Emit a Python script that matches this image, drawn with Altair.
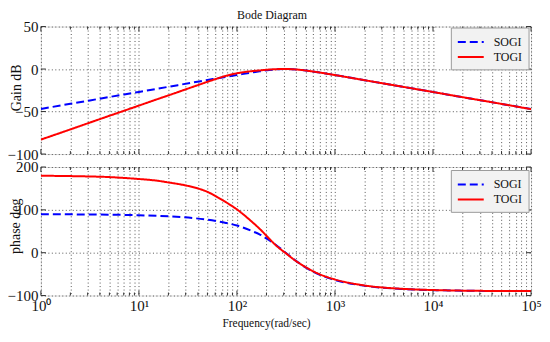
import altair as alt
import pandas as pd

# ---- data ----
freq_sogi = [1, 2, 5, 10, 20, 35, 50, 66, 77, 100, 144, 170, 213, 250, 314, 400, 464, 500,
             700, 1000, 2000, 5000, 10000, 20000, 50000, 100000]
sogi_gain = [-46.9, -40.9, -32.9, -26.9, -20.9, -16.0, -12.95, -10.5, -9.2, -7.0, -3.95, -2.7,
             -1.2, -0.44, 0.0, -0.49, -1.2, -1.66, -4.1, -7.1, -13.1, -21.0, -27.0, -33.1, -41.0, -47.0]
sogi_phase = [89.7, 89.5, 88.7, 87.4, 84.8, 81.0, 77.0, 72.5, 69.5, 63.4, 50.0, 43.0, 29.0, 18.0,
              0.0, -19.0, -29.5, -34.3, -51.5, -63.8, -77.2, -84.9, -87.4, -88.7, -89.5, -89.7]

freq_togi = [1, 2, 3, 5, 7, 10, 16, 20, 30, 40, 50, 66, 77, 100, 144, 170, 213, 250, 314, 400,
             464, 500, 700, 1000, 2000, 5000, 10000, 20000, 50000, 100000]
togi_gain = [-83.0, -71.0, -63.9, -55.0, -49.2, -43.0, -34.8, -31.0, -23.9, -18.9, -15.0, -10.4,
             -8.0, -5.0, -2.4, -1.6, -0.6, -0.15, 0.0, -0.5, -1.2, -1.7, -4.1, -7.1, -13.1, -21.0,
             -27.0, -33.1, -41.0, -47.2]
togi_phase = [179.6, 178.8, 178.0, 176.5, 174.5, 172.0, 167.5, 164.0, 157.0, 150.0, 142.0, 127.0,
              118.0, 101.0, 71.0, 56.0, 33.0, 17.0, -1.0, -19.5, -29.0, -33.5, -50.5, -62.5, -76.5,
              -84.5, -87.2, -88.6, -89.4, -89.7]

series_names = ["SOGI", "TOGI"]
series_colors = ["#0000ff", "#ff0000"]
series_dash = [[8, 4], [1, 0]]

decades = [1, 10, 100, 1000, 10000, 100000]
decade_labels = ["10⁰", "10¹", "10²", "10³", "10⁴", "10⁵"]
minor_ticks = [m * d for d in decades[:-1] for m in range(2, 10)]
all_x_ticks = sorted(decades + minor_ticks)

gain_ticks = [-100, -50, 0, 50]
phase_ticks = [-100, 0, 100, 200]

# ---- tables ----
rows = []
for f, g, p in zip(freq_sogi, sogi_gain, sogi_phase):
    rows.append({"freq": f, "gain": g, "phase": p, "series": "SOGI", "order": f})
for f, g, p in zip(freq_togi, togi_gain, togi_phase):
    rows.append({"freq": f, "gain": g, "phase": p, "series": "TOGI", "order": f})
df = pd.DataFrame(rows)

xt = pd.DataFrame({"freq": all_x_ticks,
                   "major": [v in decades for v in all_x_ticks]})
xt_major = xt[xt["major"]]
xt_minor = xt[~xt["major"]]

W, H1, H2 = 492, 128, 129
FONT = "Liberation Serif"
FRAME = "#333333"
GRID = dict(gridColor="#444444", gridDash=[1, 2.5], gridOpacity=0.9)

label_expr = " : ".join(
    f"datum.value == {d} ? '{l}'" for d, l in zip(decades, decade_labels)) + " : ''"

xscale = alt.Scale(type="log", domain=[1, 100000], nice=False)


def make_legend(ly):
    return alt.Legend(orient="none", legendX=411.5, legendY=ly, title=None,
                      fillColor="#f2f2f2", strokeColor="#9a9a9a", padding=6,
                      symbolType="M-1,0L2.47,0", symbolSize=225, symbolStrokeWidth=2,
                      labelFont=FONT, labelFontSize=12, labelColor="#111111",
                      rowPadding=0, labelOffset=20)


def panel(field, ydomain, yticks, height, ytitle, show_x_labels, title_x, title_y, ly):
    if show_x_labels:
        xaxis = alt.Axis(values=all_x_ticks, labelExpr=label_expr, grid=True, ticks=False,
                         domain=False, labelFlush=False, labelOverlap=False,
                         labelFont=FONT, labelFontSize=15, labelColor="#111111", labelPadding=3,
                         title="Frequency(rad/sec)", titleFont=FONT, titleFontSize=11.5,
                         titleFontWeight="normal", titleColor="#111111",
                         titleX=226, titleY=28.5, titleBaseline="middle", **GRID)
    else:
        xaxis = alt.Axis(values=all_x_ticks, labels=False, grid=True, ticks=False,
                         domain=False, title=None, **GRID)
    yaxis = alt.Axis(values=yticks, grid=True, ticks=False, domain=False,
                     labelFont=FONT, labelFontSize=15, labelColor="#111111", labelPadding=3,
                     title=ytitle, titleFont=FONT, titleFontSize=14, titleFontWeight="normal",
                     titleColor="#111111", titleAngle=270, titleBaseline="middle",
                     titleX=title_x, titleY=title_y, **GRID)
    yscale = alt.Scale(domain=ydomain, nice=False, zero=False)
    legend = make_legend(ly)

    lines = alt.Chart(df).mark_line(strokeWidth=2, interpolate="monotone", clip=True).encode(
        x=alt.X("freq:Q", scale=xscale, axis=xaxis),
        y=alt.Y(f"{field}:Q", scale=yscale, axis=yaxis),
        color=alt.Color("series:N", scale=alt.Scale(domain=series_names, range=series_colors),
                        legend=legend),
        strokeDash=alt.StrokeDash("series:N",
                                  scale=alt.Scale(domain=series_names, range=series_dash),
                                  legend=legend),
        order="order:Q",
        detail="series:N",
    )

    def xticks(data, length):
        top = alt.Chart(data).mark_rule(color=FRAME, strokeWidth=1).encode(
            x=alt.X("freq:Q", scale=xscale), y=alt.value(0), y2=alt.value(length))
        bot = alt.Chart(data).mark_rule(color=FRAME, strokeWidth=1).encode(
            x=alt.X("freq:Q", scale=xscale), y=alt.value(height - length), y2=alt.value(height))
        return [top, bot]

    yt = pd.DataFrame({"v": yticks})
    ytl = alt.Chart(yt).mark_rule(color=FRAME, strokeWidth=1).encode(
        y=alt.Y("v:Q", scale=yscale), x=alt.value(0), x2=alt.value(5))
    ytr = alt.Chart(yt).mark_rule(color=FRAME, strokeWidth=1).encode(
        y=alt.Y("v:Q", scale=yscale), x=alt.value(W - 5), x2=alt.value(W))

    layers = [lines] + xticks(xt_major, 5) + xticks(xt_minor, 3) + [ytl, ytr]
    return alt.layer(*layers).properties(width=W, height=height)


top = panel("gain", [-100, 50], gain_ticks, H1, "Gain dB", False, -24.5, 61, 1).properties(
    title=alt.TitleParams("Bode Diagram", font=FONT, fontSize=12, fontWeight="normal",
                          color="#111111", anchor="middle", frame="group", dx=-14, offset=-2)
)
bottom = panel("phase", [-100, 200], phase_ticks, H2, "phase deg", True, -25.5, 59, 3)

chart = alt.vconcat(top, bottom, spacing=-4).resolve_legend(
    color="independent", strokeDash="independent"
).properties(
    padding={"left": -2, "top": -1, "right": 0, "bottom": 0}
).configure_view(
    stroke=FRAME, strokeWidth=1
).configure(background="white")

chart.save("out.html", embed_options={"renderer": "svg", "actions": False})
